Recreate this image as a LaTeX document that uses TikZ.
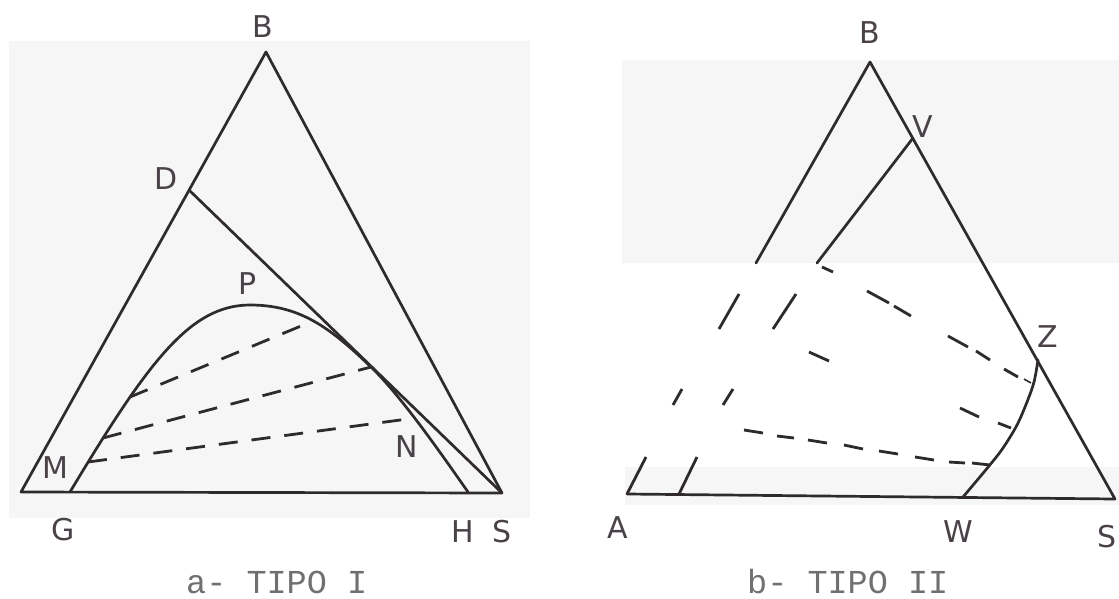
\documentclass[tikz,border=0pt]{standalone}
\usepackage{fontspec}
\setmainfont{DejaVu Sans}
\newfontfamily\capfont{Liberation Mono}
\definecolor{linec}{HTML}{2E2A2E}
\definecolor{labelc}{HTML}{4A4249}
\definecolor{capc}{HTML}{707070}
\definecolor{bgc}{HTML}{F6F6F6}
\begin{document}
\begin{tikzpicture}[x=1pt,y=-1pt,
  edge/.style={draw=linec, line width=2.7pt, line join=round, line cap=round},
  tie/.style={draw=linec, line width=2.8pt, dash pattern=on 19pt off 14pt},
  seg/.style={draw=linec, line width=2.8pt},
  lbl/.style={text=labelc, font=\fontsize{30}{30}\selectfont, inner sep=0pt},
  capt/.style={text=capc, font=\capfont\fontsize{33.5}{34}\selectfont, inner sep=0pt, anchor=base west}]
\useasboundingbox (0,0) rectangle (1119,598);
\fill[white] (0,0) rectangle (1119,598);
% scan background
\fill[bgc] (9,41) rectangle (530,518);
\fill[bgc] (622,60) rectangle (1119,263);
\fill[bgc] (625,467) rectangle (1119,505);

% ---------- a- TIPO I ----------
\coordinate (G) at (21,492);
\coordinate (B1) at (266,52);
\coordinate (S1) at (502,493);
\coordinate (D) at (189,190);
\coordinate (Mb) at (70,492);
\coordinate (P) at (250,305);
\coordinate (T) at (371,367);
\coordinate (H) at (468,492);
\draw[edge] (G) -- (B1) -- (S1) -- cycle;
\draw[edge] (D) -- (S1);
\draw[edge] (Mb) .. controls (148,362) and (190,305) .. (P)
                 .. controls (300,305) and (330,327.5) .. (T)
                 .. controls (401,396) and (440,452) .. (H);
\coordinate (M) at (88,462);
\coordinate (N) at (415,418);
\coordinate (t1a) at (130,397);
\coordinate (t1b) at (313,321);
\coordinate (t2a) at (103,438);
\draw[tie] (t1a) -- (t1b);
\draw[tie] (t2a) -- (T);
\draw[tie] (M) -- (N);

\node[lbl] (lB1) at (263,27) {B};
\node[lbl] (lD) at (166,179) {D};
\node[lbl] (lP) at (248,284) {P};
\node[lbl] (lM) at (55,468) {M};
\node[lbl] (lN) at (407,447) {N};
\node[lbl] (lG) at (63,530) {G};
\node[lbl] (lH) at (463,532) {H};
\node[lbl] (lS1) at (502,532) {S};
\node[capt] (capA) at (186,593) {a- TIPO I};

% ---------- b- TIPO II ----------
\coordinate (A) at (627,494);
\coordinate (B2) at (870,62);
\coordinate (S2) at (1115,499);
\coordinate (V) at (913,138);
\coordinate (Z) at (1038,360);
\coordinate (W) at (963,497);
\coordinate (Ab) at (679,494);
\draw[edge] (B2) -- (S2) -- (A);
% left edge A-B, visible parts
\draw[edge] (B2) -- (756,263);
\draw[seg] (739,294) -- (719,329);
\draw[seg] (682,389) -- (673,405);
\draw[seg] (646,457) -- (A);
% inner branch V - base, visible parts
\draw[edge] (V) -- (817,263);
\draw[seg] (796,294) -- (773,329);
\draw[seg] (733,389) -- (723,405);
\draw[seg] (697,457) -- (Ab);
% binodal right branch
\draw[edge] plot[smooth, tension=0.55] coordinates {(1038,360) (1034,382) (1027,402) (1017,425) (1003,448) (989,466) (963,497)};
% tie line dashes (partly erased in the scan)
\draw[seg] (822,267) -- (833,272);
\draw[seg] (867,291) -- (889,303);
\draw[seg] (894,306) -- (911,316);
\draw[seg] (948,336) -- (968,347);
\draw[seg] (976,351) -- (990,360);
\draw[seg] (1004,369) -- (1018,377);
\draw[seg, line width=1.6pt] (1024,379) -- (1031,383);
\draw[seg] (809,352) -- (829,361);
\draw[seg] (960,408) -- (979,417);
\draw[seg] (998,423) -- (1011,428);
\draw[seg] (744,430) -- (763,433);
\draw[seg] (777,436) -- (794,438);
\draw[seg] (808,440) -- (827,443);
\draw[seg] (844,445) -- (863,449);
\draw[seg] (879,451) -- (898,454);
\draw[seg] (915,457) -- (934,460);
\draw[seg] (949,462) -- (965,463);
\draw[seg] (972,463) -- (990,465);

\node[lbl] (lB2) at (870,33) {B};
\node[lbl] (lV) at (923,127) {V};
\node[lbl] (lZ) at (1048,337) {Z};
\node[lbl] (lA) at (618,528) {A};
\node[lbl] (lW) at (958,532) {W};
\node[lbl] (lS2) at (1107,537) {S};
\node[capt] (capB) at (747,593) {b- TIPO II};
\end{tikzpicture}
\end{document}
